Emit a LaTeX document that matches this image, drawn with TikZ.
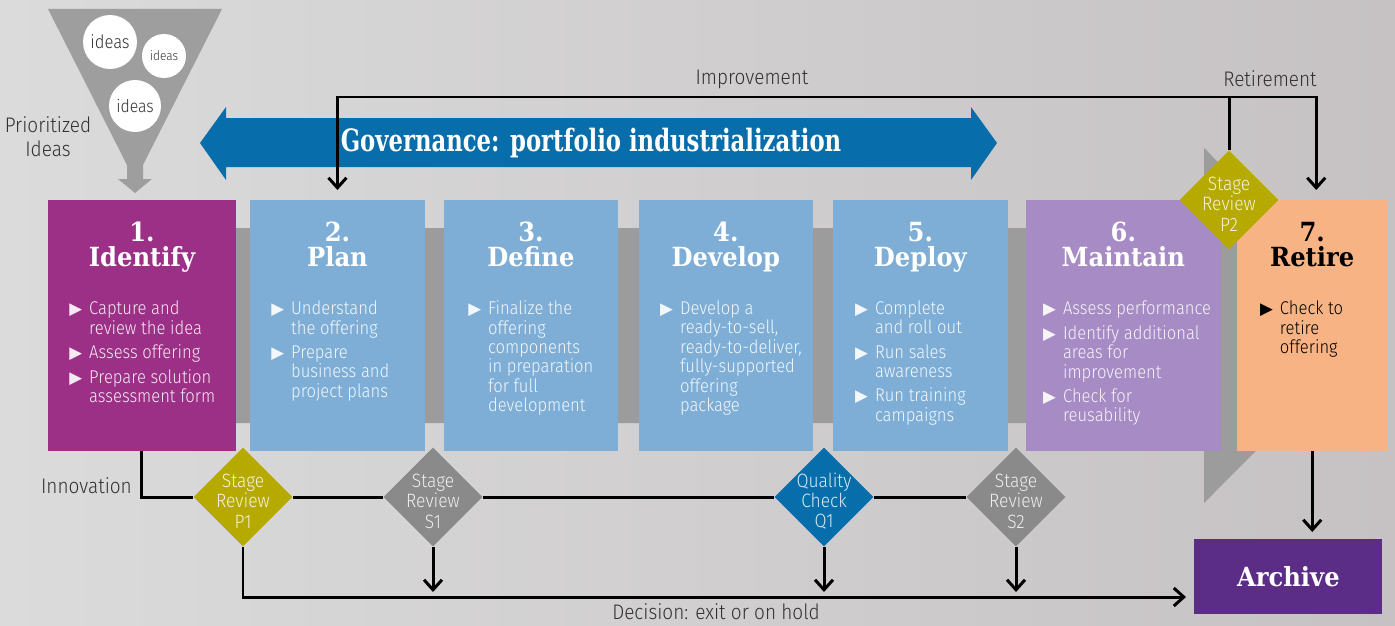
\documentclass[tikz,border=0pt]{standalone}
\usepackage{fontspec}
\setmainfont{Fira Sans}[UprightFont=* Light, FakeStretch=0.9]
\newfontfamily\slabfont{DejaVu Serif}[FakeStretch=0.92]
\newfontfamily\bannerfont{DejaVu Serif}[FakeStretch=0.74]
\newfontfamily\symfont{DejaVu Sans}
\usetikzlibrary{arrows.meta,positioning,shapes.geometric}

\definecolor{identcol}{RGB}{156,48,135}
\definecolor{stepblue}{RGB}{126,174,214}
\definecolor{maintcol}{RGB}{166,139,196}
\definecolor{retirecol}{RGB}{247,179,131}
\definecolor{archcol}{RGB}{91,45,134}
\definecolor{govblue}{RGB}{8,110,171}
\definecolor{gateolive}{RGB}{182,170,0}
\definecolor{gategray}{RGB}{138,138,138}
\definecolor{bandgray}{RGB}{156,156,156}
\definecolor{funnelgray}{RGB}{158,158,158}
\definecolor{notegray}{RGB}{50,50,50}
\definecolor{bgleft}{RGB}{219,219,219}
\definecolor{bgright}{RGB}{198,194,196}

% bullet and bullet list used inside the phase boxes
\newcommand\bul{\makebox[11.3pt][l]{\symfont\fontsize{9.5}{9.5}\selectfont ▶}}
\newcommand\steplist[1]{\begin{tabular}{@{}l@{}l@{}}#1\end{tabular}}

\tikzset{
    %Define arrow tip
    >={Straight Barb[length=2mm,width=3.6mm]},
    %Phase boxes and their texts
    phase/.style={
             rectangle, fill=#1,
             minimum height=5.02cm, inner sep=0pt, outer sep=0pt,
             anchor=north west},
    phasehead/.style={
             font=\slabfont\bfseries\fontsize{15}{14}\selectfont,
             text=white, align=center, inner sep=0pt},
    phasebody/.style={
             font=\fontsize{10.5}{10.8}\selectfont,
             text=white, text opacity=0.9, inner sep=0pt},
    %Review gates
    gate/.style={
             diamond, fill=#1,
             minimum width=1.98cm, minimum height=1.98cm, inner sep=0pt},
    gatetext/.style={
             font=\fontsize{11}{11.6}\selectfont,
             text=white, text opacity=0.85, align=center, yshift=-0.08cm},
    note/.style={
             font=\fontsize{12}{13.6}\selectfont,
             text=notegray, align=center},
    idea/.style={
             circle, fill=white, inner sep=0pt,
             minimum size=#1, text=notegray},
    % Define connector styles
    flow/.style={
            line width=1.7pt, black},
    flowarrow/.style={
            flow, ->}
}

\begin{document}
\begin{tikzpicture}[x=0.02cm, y=-0.02cm]
 \useasboundingbox (0,0) rectangle (1395,625);
 \shade[left color=bgleft, right color=bgright] (0,0) rectangle (1395,625);

 % funnel of ideas
 \fill[funnelgray] (48,9) -- (222,9) -- (143,165) -- (143,179) -- (152,179)
       -- (135,193) -- (118,179) -- (127,179) -- (127,165) -- cycle;
 \node[idea=1.08cm, font=\fontsize{10.5}{12}\selectfont] (idea1) at (110,42) {ideas};
 \node[idea=0.88cm, font=\fontsize{7.5}{9}\selectfont] (idea2) at (164,56) {ideas};
 \node[idea=1.04cm, font=\fontsize{10}{12}\selectfont] (idea3) at (135,106) {ideas};
 \node[note] (prio) at (48,137) {Prioritized\\Ideas};

 % governance banner
 \fill[govblue] (200,143) -- (226,107) -- (226,118) -- (971,118) -- (971,107)
       -- (997,143) -- (971,180) -- (971,167) -- (226,167) -- (226,180) -- cycle;
 \node[text=white, font=\bannerfont\bfseries\fontsize{17.5}{20}\selectfont] (gov) at (591,143)
       {Governance: portfolio industrialization};

 % gray process band ending in a chevron
 \fill[bandgray] (236,228) -- (1204,228) -- (1204,148) -- (1381,325.5)
       -- (1204,503) -- (1204,423) -- (236,423) -- cycle;

 % phases
 \node[phase=identcol, minimum width=3.76cm] (identify) at (48,200) {};
 \node[phase=stepblue, minimum width=3.5cm, right=0.28cm of identify] (plan) {};
 \node[phase=stepblue, minimum width=3.48cm, right=0.38cm of plan] (define) {};
 \node[phase=stepblue, minimum width=3.48cm, right=0.42cm of define] (develop) {};
 \node[phase=stepblue, minimum width=3.5cm, right=0.4cm of develop] (deploy) {};
 \node[phase=maintcol, minimum width=3.9cm, right=0.36cm of deploy] (maintain) {};
 \node[phase=retirecol, minimum width=3.02cm, right=0.32cm of maintain] (retire) {};

 \node[phasehead, below=0.44cm of identify.north] {1.\\Identify};
 \node[phasehead, below=0.44cm of plan.north] {2.\\Plan};
 \node[phasehead, below=0.44cm of define.north] {3.\\Define};
 \node[phasehead, below=0.44cm of develop.north] {4.\\Develop};
 \node[phasehead, below=0.44cm of deploy.north] {5.\\Deploy};
 \node[phasehead, below=0.44cm of maintain.north] {6.\\Maintain};
 \node[phasehead, text=black, below=0.44cm of retire.north] {7.\\Retire};

 \node[phasebody, below right=2.01cm and 0.42cm of identify.north west] {\steplist{
       \bul & Capture and\\ & review the idea\\[2.8pt]
       \bul & Assess offering\\[2.8pt]
       \bul & Prepare solution\\ & assessment form}};
 \node[phasebody, below right=2.01cm and 0.42cm of plan.north west] {\steplist{
       \bul & Understand\\ & the offering\\[2.8pt]
       \bul & Prepare\\ & business and\\ & project plans}};
 \node[phasebody, below right=2.01cm and 0.48cm of define.north west] {\steplist{
       \bul & Finalize the\\ & offering\\ & components\\ & in preparation\\ & for full\\ & development}};
 \node[phasebody, below right=2.01cm and 0.42cm of develop.north west] {\steplist{
       \bul & Develop a\\ & ready-to-sell,\\ & ready-to-deliver,\\ & fully-supported\\ & offering\\ & package}};
 \node[phasebody, below right=2.01cm and 0.44cm of deploy.north west] {\steplist{
       \bul & Complete\\ & and roll out\\[2.8pt]
       \bul & Run sales\\ & awareness\\[2.8pt]
       \bul & Run training\\ & campaigns}};
 \node[phasebody, below right=2.01cm and 0.34cm of maintain.north west] {\steplist{
       \bul & Assess performance\\[2.8pt]
       \bul & Identify additional\\ & areas for\\ & improvement\\[2.8pt]
       \bul & Check for\\ & reusability}};
 \node[phasebody, text=black, text opacity=1, below right=2.01cm and 0.46cm of retire.north west] {\steplist{
       \bul & Check to\\ & retire\\ & offering}};

 \node[rectangle, fill=archcol, minimum width=3.76cm, minimum height=1.5cm, anchor=north west,
       text=white, font=\slabfont\bfseries\fontsize{15}{14}\selectfont] (archive) at (1194,539) {Archive};

 % review gates
 \node[gate=gateolive] (p1) at (243,497) {};
 \node[gate=gategray] (s1) at (433,497) {};
 \node[gate=govblue] (q1) at (824,497) {};
 \node[gate=gategray] (s2) at (1016,497) {};
 \node[gate=gateolive] (p2) at (1229,200) {};
 \node[gatetext] at (p1) {Stage\\Review\\P1};
 \node[gatetext] at (s1) {Stage\\Review\\S1};
 \node[gatetext] at (q1) {Quality\\Check\\Q1};
 \node[gatetext] at (s2) {Stage\\Review\\S2};
 \node[gatetext] at (p2) {Stage\\Review\\P2};

 % connectors
 \coordinate (topline) at (0,97);
 \coordinate (exitline) at (0,597);
 \draw[flowarrow] (p2.north) |- (topline -| plan.north) -- ([yshift=0.2cm]plan.north);
 \draw[flowarrow] (p2.north) |- ([xshift=0.08cm]topline -| retire.north) -- ([xshift=0.08cm,yshift=0.2cm]retire.north);
 \draw[flow] (identify.south) |- (p1.west);
 \draw[flow] (p1.east) -- (s1.west);
 \draw[flow] (s1.east) -- (q1.west);
 \draw[flow] (q1.east) -- (s2.west);
 \draw[flowarrow, shorten >=0.16cm] (p1.south) |- (archive.west |- exitline);
 \draw[flowarrow] (s1.south) -- ([yshift=0.1cm]s1.south |- exitline);
 \draw[flowarrow] (q1.south) -- ([yshift=0.1cm]q1.south |- exitline);
 \draw[flowarrow] (s2.south) -- ([yshift=0.1cm]s2.south |- exitline);
 \draw[flowarrow] (retire.south) -- ([yshift=0.14cm]retire.south |- archive.north);

 % connector labels
 \node[note] at (752,79) {Improvement};
 \node[note] at (1270,79) {Retirement};
 \node[note, anchor=east] at (138,486) {Innovation};
 \node[note] at (716,612) {Decision: exit or on hold};
\end{tikzpicture}
\end{document}
